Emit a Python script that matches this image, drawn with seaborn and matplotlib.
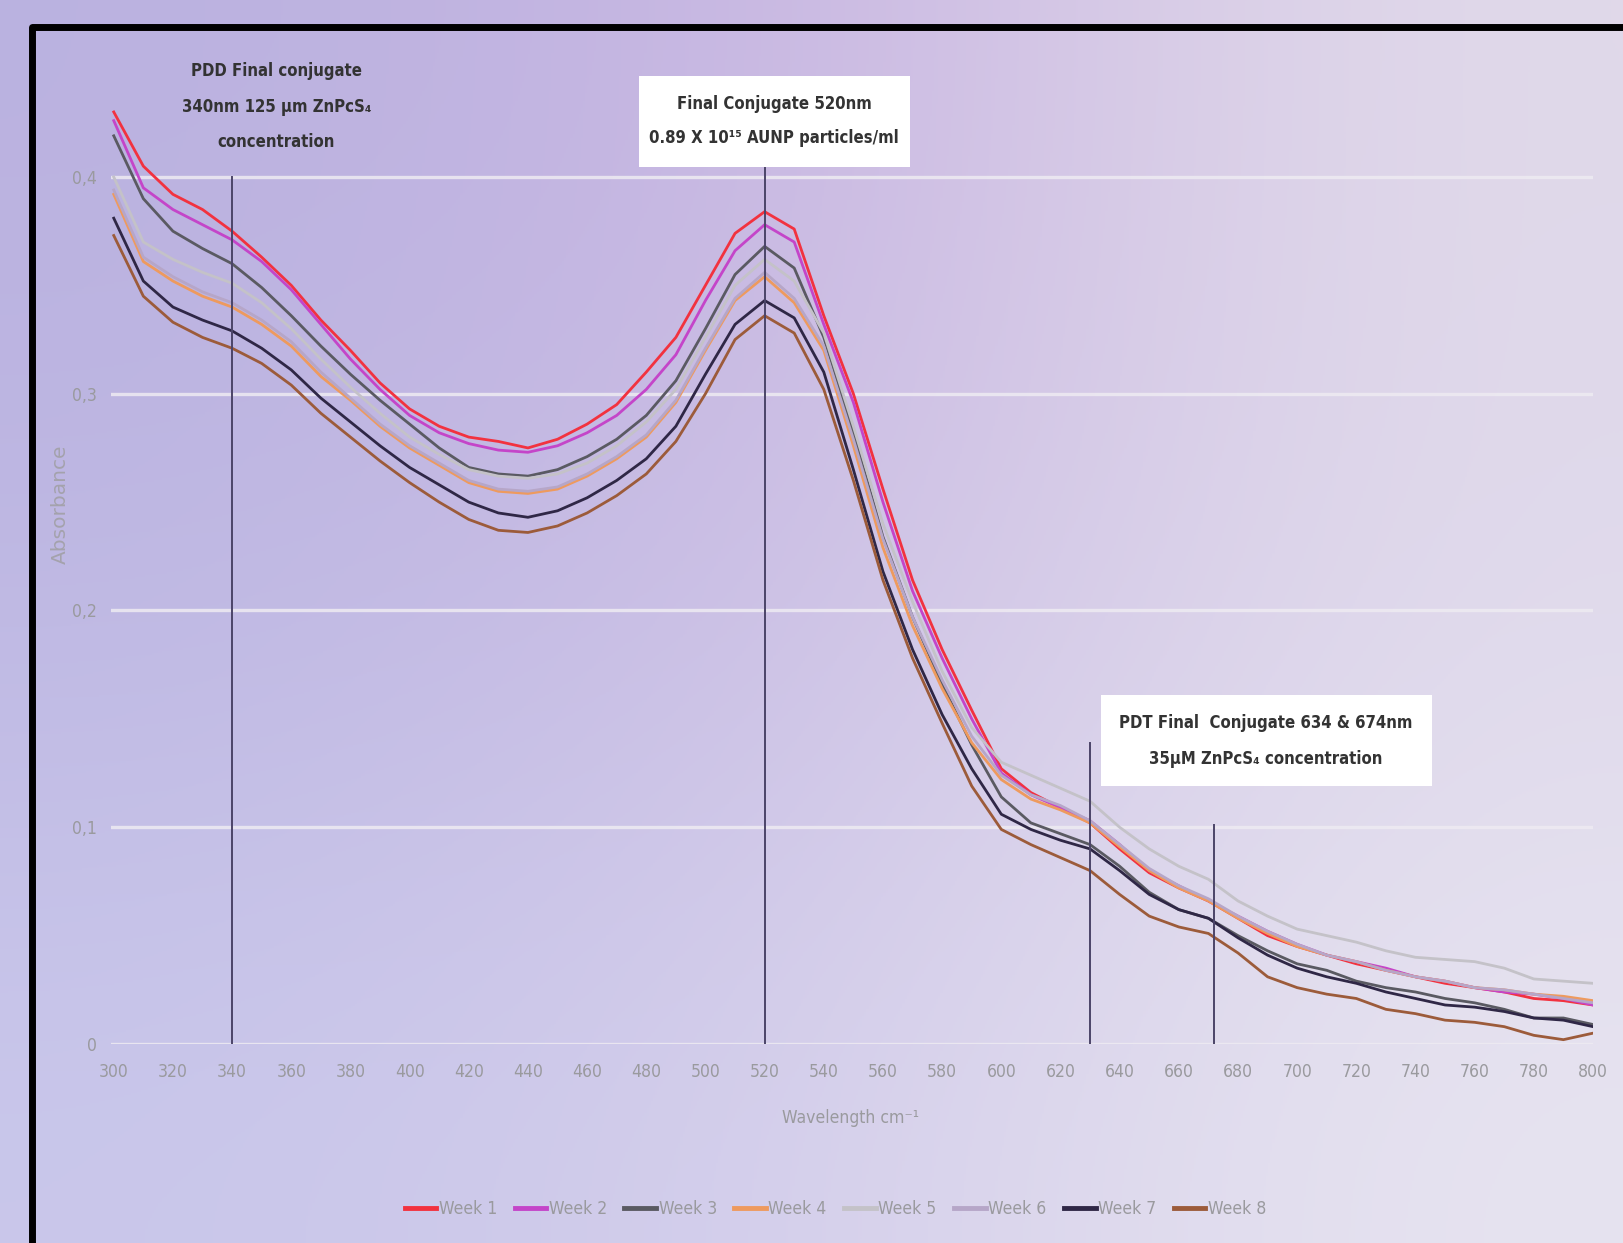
import numpy as np
import pandas as pd
import seaborn as sns
import matplotlib
matplotlib.use('Agg')
import matplotlib.pyplot as plt
from matplotlib.patches import Rectangle
from matplotlib import font_manager as fm

# wavelength grid (nm) and absorbance per week
wavelength = list(range(300, 801, 10))

week1 = [.430, .405, .392, .385, .375, .363, .350, .334, .320, .305,
         .293, .285, .280, .278, .275, .279, .286, .295, .310, .326,
         .350, .374, .384, .376, .336, .300, .256, .214, .182, .154,
         .127, .116, .109, .102, .090, .079, .072, .066, .058, .050,
         .045, .041, .037, .034, .031, .028, .026, .024, .021, .020, .018]
week2 = [.426, .395, .385, .378, .371, .361, .348, .332, .316, .302,
         .290, .282, .277, .274, .273, .276, .282, .290, .302, .318,
         .343, .366, .378, .370, .332, .296, .250, .209, .178, .150,
         .125, .115, .109, .103, .092, .080, .073, .066, .059, .052,
         .046, .041, .038, .035, .031, .029, .026, .024, .023, .021, .018]
week3 = [.419, .390, .375, .367, .360, .349, .336, .322, .309, .297,
         .286, .275, .266, .263, .262, .265, .271, .279, .290, .306,
         .330, .355, .368, .358, .326, .282, .234, .197, .166, .138,
         .114, .102, .097, .092, .082, .070, .062, .058, .050, .043,
         .037, .034, .029, .026, .024, .021, .019, .016, .012, .012, .009]
week4 = [.392, .361, .352, .345, .340, .332, .322, .308, .297, .285,
         .275, .267, .259, .255, .254, .256, .262, .270, .280, .296,
         .320, .343, .354, .342, .320, .276, .229, .193, .164, .139,
         .122, .113, .108, .102, .091, .080, .072, .066, .058, .051,
         .045, .041, .038, .034, .031, .029, .026, .025, .023, .022, .020]
week5 = [.400, .370, .362, .356, .351, .342, .330, .316, .303, .291,
         .280, .272, .265, .262, .261, .263, .268, .276, .287, .302,
         .326, .350, .362, .352, .328, .285, .240, .204, .172, .146,
         .130, .124, .118, .112, .100, .090, .082, .076, .066, .059,
         .053, .050, .047, .043, .040, .039, .038, .035, .030, .029, .028]
week6 = [.394, .363, .354, .347, .342, .334, .324, .310, .298, .286,
         .276, .268, .260, .256, .255, .257, .263, .271, .281, .297,
         .321, .344, .356, .344, .322, .279, .233, .197, .168, .142,
         .124, .115, .110, .103, .092, .081, .073, .067, .059, .052,
         .046, .041, .038, .034, .031, .029, .026, .025, .023, .021, .019]
week7 = [.381, .352, .340, .334, .329, .321, .311, .298, .287, .276,
         .266, .258, .250, .245, .243, .246, .252, .260, .270, .285,
         .309, .332, .343, .335, .310, .265, .218, .182, .152, .127,
         .106, .099, .094, .090, .080, .069, .062, .058, .049, .041,
         .035, .031, .028, .024, .021, .018, .017, .015, .012, .011, .008]
week8 = [.373, .345, .333, .326, .321, .314, .304, .291, .280, .269,
         .259, .250, .242, .237, .236, .239, .245, .253, .263, .278,
         .300, .325, .336, .328, .302, .260, .214, .178, .148, .119,
         .099, .092, .086, .080, .069, .059, .054, .051, .042, .031,
         .026, .023, .021, .016, .014, .011, .010, .008, .004, .002, .005]

week_names = ['Week 1', 'Week 2', 'Week 3', 'Week 4',
              'Week 5', 'Week 6', 'Week 7', 'Week 8']
week_colors = ['#F2323F', '#C445C9', '#5A5A62', '#EE9A5E',
               '#C4C2C8', '#B6A6C8', '#2F2746', '#9C5B3A']

# reference wavelengths and how high their marker lines reach
marker_nm = [340, 520, 630, 672]
marker_top = [0.400, 0.404, 0.139, 0.101]

yticks = [0, 0.1, 0.2, 0.3, 0.4]
ytick_labels = ['0', '0,1', '0,2', '0,3', '0,4']
xticks = list(range(300, 801, 20))

series = [week1, week2, week3, week4, week5, week6, week7, week8]
df = pd.concat([pd.DataFrame({'Wavelength': wavelength, 'Absorbance': s, 'Week': n})
                for s, n in zip(series, week_names)], ignore_index=True)

# pick a condensed face if one is installed
installed = {(f.name, f.stretch) for f in fm.fontManager.ttflist}
if any(n == 'Liberation Sans Narrow' for n, _ in installed):
    NARROW = dict(family=['Liberation Sans Narrow', 'DejaVu Sans'])
    SCALE = 1.0
elif ('DejaVu Sans', 'condensed') in installed or ('DejaVu Sans', 'semi-condensed') in installed:
    NARROW = dict(family=['DejaVu Sans'], stretch='condensed')
    SCALE = 0.9
else:
    NARROW = dict(family=['DejaVu Sans'])
    SCALE = 0.78

W, H = 1624, 1243

fig = plt.figure(figsize=(W / 100, H / 100), dpi=100)

# soft lavender gradient background
bg = np.array([
    [[186, 178, 224], [202, 182, 226], [225, 218, 234]],
    [[190, 184, 227], [205, 192, 229], [224, 218, 236]],
    [[201, 199, 235], [213, 207, 235], [231, 228, 240]],
]) / 255
bgax = fig.add_axes([0, 0, 1, 1], zorder=-10)
bgax.imshow(bg, extent=[0, 1, 0, 1], aspect='auto', interpolation='bicubic')
bgax.axis('off')

# black frame (top + left edge visible)
fig.patches.append(Rectangle((32 / W, -0.2), 1.5, 1.2 - 27 / H, transform=fig.transFigure,
                             facecolor='none', edgecolor='black', linewidth=5,
                             joinstyle='round', zorder=5))

ax = fig.add_axes([110.8 / W, 1 - 1044 / H, (1593 - 110.8) / W, (1044 - 90.3) / H])
ax.set_facecolor('none')

for y in yticks:
    ax.axhline(y, color='#EEEBF2', lw=2.4, alpha=0.85, zorder=1)

sns.lineplot(data=df, x='Wavelength', y='Absorbance', hue='Week',
             palette=dict(zip(week_names, week_colors)), linewidth=2.0,
             ax=ax, zorder=3)

for nm, top in zip(marker_nm, marker_top):
    ax.plot([nm, nm], [0, top], color='#4B4468', lw=1.4, zorder=4)

ax.set_xlim(299, 800)
ax.set_ylim(0, 0.44)
ax.set_xticks(xticks)
ax.set_xticklabels([str(v) for v in xticks], fontsize=14 * SCALE, color='#9A9A9E', **NARROW)
ax.set_yticks(yticks)
ax.set_yticklabels(ytick_labels, fontsize=14 * SCALE, color='#9A9A9E', **NARROW)
ax.tick_params(length=0, pad=14)
ax.tick_params(axis='y', pad=10)
for sp in ax.spines.values():
    sp.set_visible(False)
ax.set_xlabel('')
ax.set_ylabel('')

fig.text(851 / W, 1 - 1118 / H, 'Wavelength cm⁻¹', ha='center', va='center',
         fontsize=14 * SCALE, color='#9A9A9E', **NARROW)
fig.text(60 / W, 1 - 504 / H, 'Absorbance', ha='center', va='center', rotation=90,
         fontsize=14.5, color='#A4A2AC')

# annotation boxes
def px_box(x0, y0, x1, y1):
    fig.patches.append(Rectangle((x0 / W, 1 - y1 / H), (x1 - x0) / W, (y1 - y0) / H,
                                 transform=fig.transFigure, facecolor='white',
                                 edgecolor='none', zorder=6))

def px_text(x, y, s):
    fig.text(x / W, 1 - y / H, s, ha='center', va='center',
             fontsize=13.3 * SCALE, fontweight='bold', color='#333333', zorder=7, **NARROW)

px_text(276.5, 71.5, 'PDD Final conjugate')
px_text(276.5, 106.7, '340nm 125 µm ZnPcS₄')
px_text(276.5, 142, 'concentration')

px_box(639, 75.6, 910, 166.7)
px_text(774, 103.6, 'Final Conjugate 520nm')
px_text(774, 137.7, '0.89 X 10¹⁵ AUNP particles/ml')

px_box(1101, 695, 1432, 786)
px_text(1266, 723, 'PDT Final  Conjugate 634 & 674nm')
px_text(1266, 759, '35µM ZnPcS₄ concentration')

handles, labels = ax.get_legend_handles_labels()
ax.get_legend().remove()
leg_prop = {'size': 14 * SCALE, 'family': NARROW['family']}
if 'stretch' in NARROW:
    leg_prop['stretch'] = NARROW['stretch']
leg = fig.legend(handles, labels, loc='center', bbox_to_anchor=(835.5 / W, 1 - 1209 / H),
                 ncol=8, frameon=False, handlelength=1.8, handletextpad=0.15,
                 columnspacing=1.0, prop=leg_prop)
for h in leg.legend_handles:
    h.set_linewidth(3.5)
for t in leg.get_texts():
    t.set_color('#9A9A9E')

fig.savefig('out.png', dpi=100)
